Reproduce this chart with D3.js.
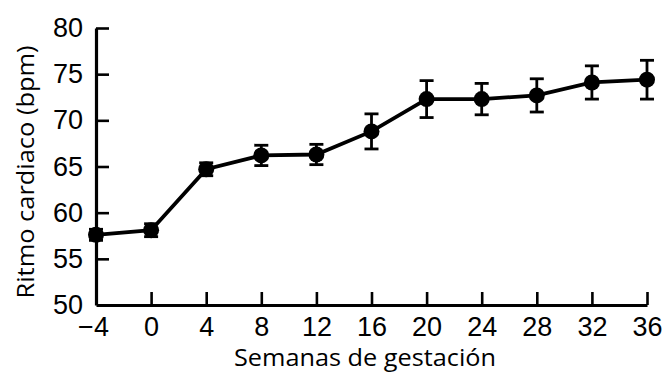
<!DOCTYPE html>
<html>
<head>
<meta charset="utf-8">
<script src="https://cdn.jsdelivr.net/npm/d3@7.9.0/dist/d3.min.js"></script>
<style>
  body { margin: 0; background: #fff; }
  svg { display: block; }
</style>
</head>
<body>
<div id="chart"></div>
<script>
const weeks = [-4, 0, 4, 8, 12, 16, 20, 24, 28, 32, 36];
const heartRate = [57.6, 58.1, 64.7, 66.2, 66.3, 68.8, 72.3, 72.3, 72.7, 74.1, 74.4];
const errors = [0.6, 0.7, 0.7, 1.1, 1.1, 1.9, 2.0, 1.7, 1.8, 1.8, 2.1];
const yTicks = [50, 55, 60, 65, 70, 75, 80];

const width = 667;
const height = 374;
const margin = { top: 28, right: 20, bottom: 69, left: 96 };

const points = weeks.map((w, i) => ({ week: w, value: heartRate[i], err: errors[i] }));

const svg = d3.select('#chart')
  .append('svg')
  .attr('width', width)
  .attr('height', height);

const x = d3.scaleLinear()
  .domain([-4, 36])
  .range([margin.left, width - margin.right]);

const y = d3.scaleLinear()
  .domain([50, 80])
  .range([height - margin.bottom, margin.top]);

// axes: ticks point inward
const xAxis = svg.append('g')
  .attr('transform', `translate(0, ${y(50)})`)
  .call(d3.axisBottom(x).tickValues(weeks).tickSize(-13).tickSizeOuter(0)
    .tickFormat((d) => (d < 0 ? '\u2212' + Math.abs(d) : d)));

const yAxis = svg.append('g')
  .attr('transform', `translate(${x(-4)}, 0)`)
  .call(d3.axisLeft(y).tickValues(yTicks).tickSize(-13).tickSizeOuter(0));

svg.selectAll('.domain').attr('stroke', '#000').attr('stroke-width', 3.2);
svg.selectAll('.tick line').attr('stroke', '#000').attr('stroke-width', 2.6);
svg.selectAll('.tick text')
  .attr('fill', '#000')
  .style('font-family', '"Liberation Sans", Arial, sans-serif')
  .style('font-size', '27px');

xAxis.selectAll('.tick text').attr('y', 12).attr('dy', '0.71em');
yAxis.selectAll('.tick text').attr('x', -13);
xAxis.selectAll('.tick').filter((d) => d === -4).select('text').attr('dx', -3);

// no tick marks at the origin
xAxis.selectAll('.tick').filter((d) => d === -4).select('line').remove();
yAxis.selectAll('.tick').filter((d) => d === 50).select('line').remove();

// line
svg.append('path')
  .datum(points)
  .attr('fill', 'none')
  .attr('stroke', '#000')
  .attr('stroke-width', 3.8)
  .attr('d', d3.line().x((d) => x(d.week)).y((d) => y(d.value)));

// error bars
const bars = svg.append('g').attr('stroke', '#000').attr('stroke-width', 2.8);

bars.selectAll('line.v')
  .data(points)
  .join('line')
  .attr('class', 'v')
  .attr('x1', (d) => x(d.week))
  .attr('x2', (d) => x(d.week))
  .attr('y1', (d) => y(d.value + d.err))
  .attr('y2', (d) => y(d.value - d.err));

for (const side of [1, -1]) {
  bars.selectAll(`line.cap${side}`)
    .data(points)
    .join('line')
    .attr('class', `cap${side}`)
    .attr('x1', (d) => x(d.week) - 7)
    .attr('x2', (d) => x(d.week) + 7)
    .attr('y1', (d) => y(d.value + side * d.err))
    .attr('y2', (d) => y(d.value + side * d.err));
}

// markers
svg.append('g')
  .selectAll('circle')
  .data(points)
  .join('circle')
  .attr('cx', (d) => x(d.week))
  .attr('cy', (d) => y(d.value))
  .attr('r', 8)
  .attr('fill', '#000');

// titles
svg.append('text')
  .attr('x', 365)
  .attr('y', 366)
  .attr('text-anchor', 'middle')
  .attr('textLength', 262)
  .attr('lengthAdjust', 'spacingAndGlyphs')
  .style('font-family', '"Open Sans", sans-serif')
  .style('font-size', '24px')
  .text('Semanas de gestación');

svg.append('text')
  .attr('transform', `translate(34, 172) rotate(-90)`)
  .attr('text-anchor', 'middle')
  .attr('textLength', 253)
  .attr('lengthAdjust', 'spacingAndGlyphs')
  .style('font-family', '"Open Sans", sans-serif')
  .style('font-size', '23px')
  .text('Ritmo cardiaco (bpm)');
</script>
</body>
</html>
